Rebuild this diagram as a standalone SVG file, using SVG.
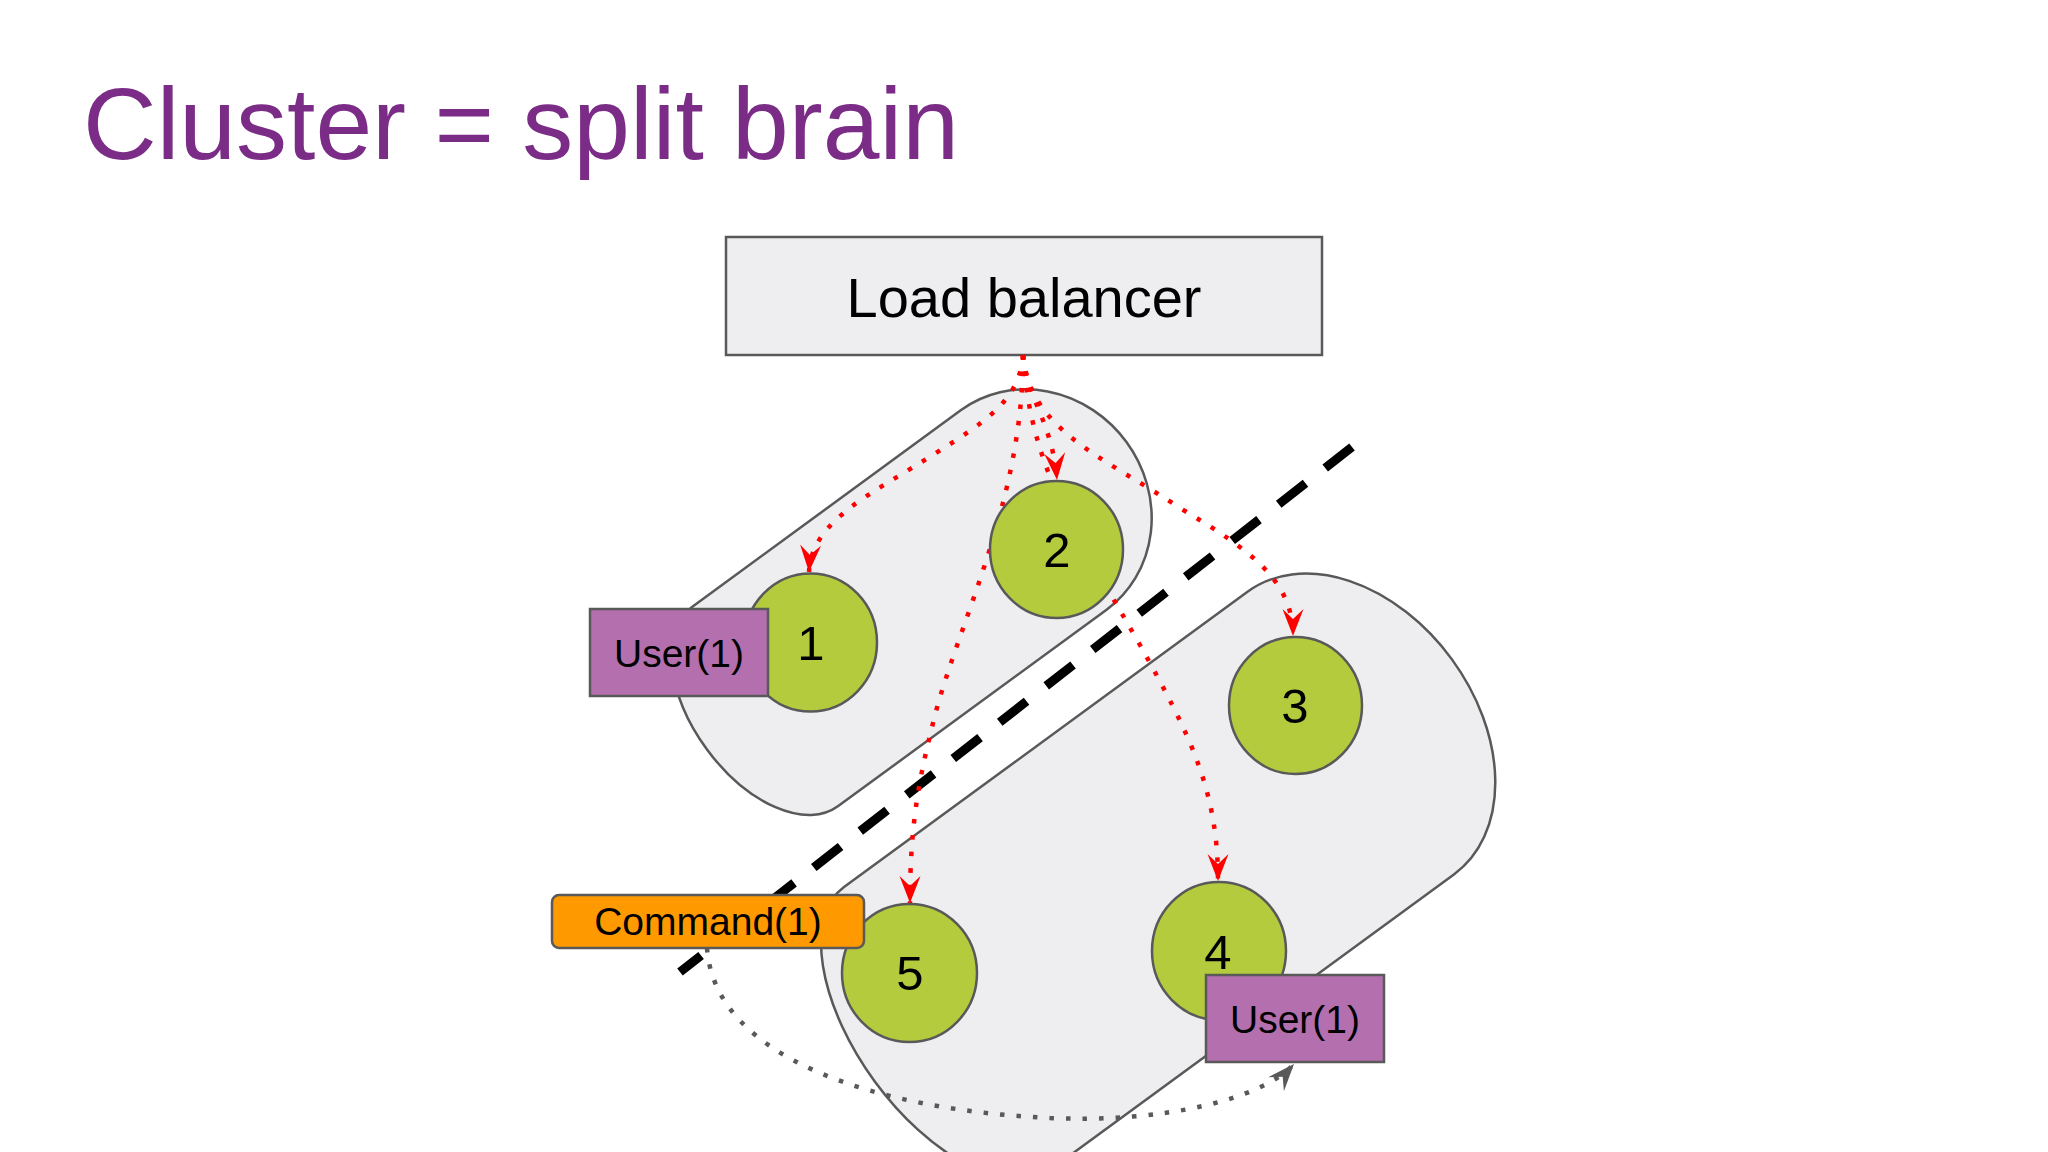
<svg xmlns="http://www.w3.org/2000/svg" width="2048" height="1152" viewBox="0 0 2048 1152">
  <defs>
    <style>
      .pill { fill: #eeeef0; stroke: #595959; stroke-width: 2.5; }
      .node { fill: #b4cb3e; stroke: #595959; stroke-width: 2.5; }
      .user { fill: #b36fae; stroke: #595959; stroke-width: 2.5; }
      .cmd { fill: #ff9900; stroke: #595959; stroke-width: 2.5; }
      .lb { fill: #eeeef0; stroke: #595959; stroke-width: 2.5; }
      .lbl { font-family: "Liberation Sans", Arial, sans-serif; fill: #000; text-anchor: middle; }
      .num { font-size: 49px; }
      .box { font-size: 39px; }
      .red { fill: none; stroke: #ff0000; stroke-width: 4.5; stroke-dasharray: 4.5 12; }
      .gray { fill: none; stroke: #595959; stroke-width: 4.5; stroke-dasharray: 4.5 12; }
      .split { fill: none; stroke: #000; stroke-width: 9; stroke-dasharray: 34 25; }
    </style>
    <marker id="arR" markerUnits="userSpaceOnUse" markerWidth="32" markerHeight="26" viewBox="-29 -13 32 26" refX="0" refY="0" orient="auto">
      <path d="M0,0 L-27,-10.5 L-17,0 L-27,10.5 Z" fill="#ff0000"/>
    </marker>
    <marker id="arG" markerUnits="userSpaceOnUse" markerWidth="32" markerHeight="26" viewBox="-29 -13 32 26" refX="0" refY="0" orient="auto">
      <path d="M0,0 L-27,-10.5 L-17,0 L-27,10.5 Z" fill="#595959"/>
    </marker>
  </defs>

  <rect x="0" y="0" width="2048" height="1152" fill="#ffffff"/>

  <text x="83" y="159" font-family="Liberation Sans, Arial, sans-serif" font-size="102" fill="#7b2c86">Cluster = split brain</text>

  <g id="cluster-lower">
    <path class="pill" transform="translate(840,890) rotate(-36.2)" d="M5,0 L505,0 A125,175 0 0 1 505,350 L5,350 A90,175 0 0 1 5,0 Z"/>
  </g>
  <g id="cluster-upper">
    <path class="pill" transform="translate(692,607) rotate(-36.2)" d="M0,0 L333,0 A115,123.5 0 0 1 333,247 L0,247 A72,123.5 0 0 1 0,0 Z"/>
  </g>

  <g id="load-balancer">
    <rect class="lb" x="726" y="237" width="596" height="118"/>
    <text class="lbl" x="1024" y="317" font-size="56">Load balancer</text>
  </g>

  <g id="connectors">
    <path id="split-line" class="split" d="M1352,447 L680,972"/>
    <path class="red" marker-end="url(#arR)" d="M1023,355 C1020,400 985,422 936,453 C870,495 812,520 809,572"/>
    <path class="red" marker-end="url(#arR)" d="M1023,355 C1027,400 1052,420 1057,480"/>
    <path class="red" marker-end="url(#arR)" d="M1023,355 C1030,430 1100,455 1180,508 C1250,550 1293,580 1293,636"/>
    <path class="red" marker-end="url(#arR)" d="M1023,355 C1030,470 1080,540 1140,645 C1190,735 1218,790 1218,881"/>
    <path class="red" marker-end="url(#arR)" d="M1023,355 C1023,500 960,620 935,715 C920,775 910,820 910,903"/>
    <path class="gray" marker-end="url(#arG)" d="M707,948 C715,1060 880,1110 1050,1118 C1160,1123 1262,1100 1294,1064"/>
  </g>

  <g id="node-1">
    <ellipse class="node" cx="810.5" cy="642.5" rx="66.5" ry="69"/>
    <text class="lbl num" x="811" y="660">1</text>
  </g>
  <g id="node-2">
    <ellipse class="node" cx="1056.5" cy="549.5" rx="66.5" ry="68.5"/>
    <text class="lbl num" x="1057" y="567">2</text>
  </g>
  <g id="node-3">
    <ellipse class="node" cx="1295.5" cy="705.5" rx="66.5" ry="68.5"/>
    <text class="lbl num" x="1295" y="723">3</text>
  </g>
  <g id="node-4">
    <ellipse class="node" cx="1219" cy="951" rx="67" ry="69"/>
    <text class="lbl num" x="1218" y="969">4</text>
  </g>
  <g id="node-5">
    <ellipse class="node" cx="909.5" cy="973" rx="67.5" ry="69"/>
    <text class="lbl num" x="910" y="990">5</text>
  </g>

  <g id="user-1">
    <rect class="user" x="590" y="609" width="178" height="87"/>
    <text class="lbl box" x="679" y="667">User(1)</text>
  </g>
  <g id="user-2">
    <rect class="user" x="1206" y="975" width="178" height="87"/>
    <text class="lbl box" x="1295" y="1033">User(1)</text>
  </g>
  <g id="command-1">
    <rect class="cmd" x="552" y="895" width="312" height="53" rx="7"/>
    <text class="lbl box" x="708" y="935">Command(1)</text>
  </g>
</svg>
